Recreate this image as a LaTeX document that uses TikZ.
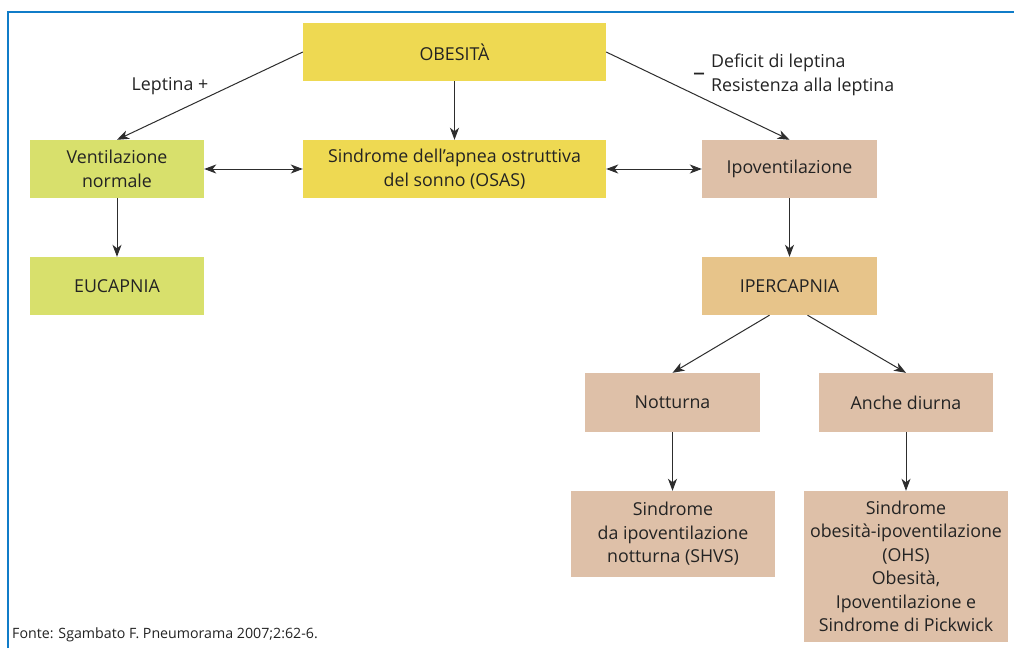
\documentclass[tikz,border=0pt]{standalone}
\usepackage{fontspec}
\setmainfont{Open Sans}
\usetikzlibrary{arrows.meta}
\definecolor{bordblue}{RGB}{16,124,200}
\definecolor{yel}{RGB}{238,217,82}
\definecolor{grn}{RGB}{216,224,108}
\definecolor{tan}{RGB}{222,192,168}
\definecolor{ora}{RGB}{231,196,138}
\definecolor{txt}{RGB}{35,35,35}
\definecolor{ln}{RGB}{45,45,45}
\tikzset{
  box/.style={rectangle, inner sep=0pt, align=center, text=txt, font=\fontsize{17.8}{23.5}\selectfont},
  lbl/.style={inner sep=0pt, text=txt, font=\fontsize{17.8}{24}\selectfont},
  arr/.style={draw=ln, line width=1pt, -{Stealth[length=12pt,width=9pt,inset=3.5pt]}},
  darr/.style={draw=ln, line width=1pt, {Stealth[length=12pt,width=9pt,inset=3.5pt]}-{Stealth[length=12pt,width=9pt,inset=3.5pt]}}
}
\begin{document}
\begin{tikzpicture}[x=1pt,y=-1pt]
\useasboundingbox (0,0) rectangle (1014,648);
\fill[white] (0,0) rectangle (1014,648);
\draw[bordblue, line width=2.5pt] (8,648) -- (8,12) -- (1014,12);

\node[box, fill=yel, minimum width=303pt, minimum height=58pt] (obes) at (454.5,52) {OBESITÀ};
\node[box, fill=grn, minimum width=174pt, minimum height=58pt] (vent) at (117,169) {Ventilazione\\normale};
\node[box, fill=yel, minimum width=303pt, minimum height=58pt] (osas) at (454.5,169) {Sindrome dell’apnea ostruttiva\\del sonno (OSAS)};
\node[box, fill=tan, minimum width=175pt, minimum height=58pt] (ipov) at (789.5,169) {Ipoventilazione};
\node[box, fill=grn, minimum width=174pt, minimum height=58pt] (euca) at (117,286) {EUCAPNIA};
\node[box, fill=ora, minimum width=175pt, minimum height=58pt] (iper) at (789.5,286) {IPERCAPNIA};
\node[box, fill=tan, minimum width=175pt, minimum height=59pt] (nott) at (672.5,402.5) {Notturna};
\node[box, fill=tan, minimum width=174pt, minimum height=59pt] (anch) at (906,402.5) {Anche diurna};
\node[box, fill=tan, minimum width=204pt, minimum height=86pt] (shvs) at (673,534) {Sindrome\\da ipoventilazione\\notturna (SHVS)};
\node[box, fill=tan, minimum width=204pt, minimum height=151pt] (ohs) at (906,566.5) {Sindrome\\obesità-ipoventilazione\\(OHS)\\Obesità,\\Ipoventilazione e\\Sindrome di Pickwick};

\node[lbl] (lep) at (170,86) {Leptina +};
\node[lbl, anchor=west, align=left] (def) at (711,75) {Deficit di leptina\\Resistenza alla leptina};
\node[lbl, anchor=base, font=\fontsize{24}{24}\selectfont] (minus) at (699,80) {–};
\node[lbl, anchor=west, font=\fontsize{14.2}{17}\selectfont] (src) at (12,635) {Fonte: Sgambato F. Pneumorama 2007;2:62-6.};

\draw[arr] (obes.west) -- (vent.north);
\draw[arr] (obes.south) -- (osas.north);
\draw[arr] (obes.east) -- (ipov.north);
\draw[darr] (vent.east) -- (osas.west);
\draw[darr] (osas.east) -- (ipov.west);
\draw[arr] (vent.south) -- (euca.north);
\draw[arr] (ipov.south) -- (iper.north);
\draw[arr] ([xshift=-20pt]iper.south) -- (nott.north);
\draw[arr] ([xshift=18pt]iper.south) -- (anch.north);
\draw[arr] (nott.south) -- (nott.south |- shvs.north);
\draw[arr] (anch.south) -- (ohs.north);
\end{tikzpicture}
\end{document}
